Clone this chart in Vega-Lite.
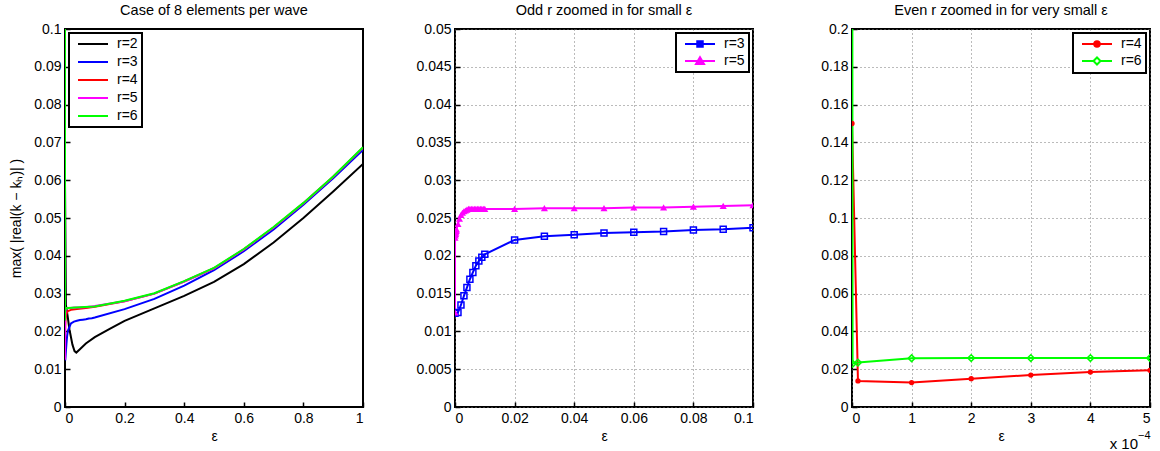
{
  "$schema": "https://vega.github.io/schema/vega-lite/v6.json",
  "background": "white",
  "padding": {"left": 8, "top": 1, "right": 2, "bottom": 0},
  "config": {
    "font": "Liberation Sans",
    "view": {"stroke": "black", "strokeWidth": 2},
    "axis": {"labelFont": "Liberation Sans", "labelFontSize": 14, "labelColor": "black", "titleFont": "Liberation Sans", "titleFontSize": 14, "titleFontWeight": "normal", "titleColor": "black", "domain": false, "tickColor": "black", "tickSize": -5, "tickWidth": 1.5, "labelPadding": 9, "grid": false, "gridDash": [1, 3], "gridColor": "#777777", "gridWidth": 1},
    "title": {"font": "Liberation Sans", "fontSize": 14.5, "fontWeight": "normal", "color": "black", "offset": 4},
    "legend": {"labelFont": "Liberation Sans", "labelFontSize": 14, "labelColor": "black", "strokeColor": "black", "fillColor": "white", "padding": 4, "rowPadding": 4, "symbolSize": 100, "symbolStrokeWidth": 2, "symbolOffset": 3, "labelOffset": 27, "symbolType": "M-1,0H5", "offset": 4}
  },
  "datasets": {
    "d": [
      {"r": "r=2", "eps": 0, "v": 0.06},
      {"r": "r=2", "eps": 0.003, "v": 0.027},
      {"r": "r=2", "eps": 0.008, "v": 0.0245},
      {"r": "r=2", "eps": 0.015, "v": 0.0205},
      {"r": "r=2", "eps": 0.025, "v": 0.0165},
      {"r": "r=2", "eps": 0.032, "v": 0.0148},
      {"r": "r=2", "eps": 0.038, "v": 0.0144},
      {"r": "r=2", "eps": 0.05, "v": 0.0153},
      {"r": "r=2", "eps": 0.07, "v": 0.0168},
      {"r": "r=2", "eps": 0.1, "v": 0.0185},
      {"r": "r=2", "eps": 0.15, "v": 0.0207},
      {"r": "r=2", "eps": 0.2, "v": 0.0228},
      {"r": "r=2", "eps": 0.3, "v": 0.0261},
      {"r": "r=2", "eps": 0.4, "v": 0.0294},
      {"r": "r=2", "eps": 0.5, "v": 0.0331},
      {"r": "r=2", "eps": 0.6, "v": 0.0378},
      {"r": "r=2", "eps": 0.7, "v": 0.0435},
      {"r": "r=2", "eps": 0.8, "v": 0.05},
      {"r": "r=2", "eps": 0.9, "v": 0.057},
      {"r": "r=2", "eps": 1, "v": 0.0643},

      {"r": "r=3", "eps": 0, "v": 0.0124},
      {"r": "r=3", "eps": 0.001, "v": 0.0125},
      {"r": "r=3", "eps": 0.002, "v": 0.0135},
      {"r": "r=3", "eps": 0.003, "v": 0.0147},
      {"r": "r=3", "eps": 0.004, "v": 0.0158},
      {"r": "r=3", "eps": 0.005, "v": 0.0169},
      {"r": "r=3", "eps": 0.006, "v": 0.0178},
      {"r": "r=3", "eps": 0.007, "v": 0.0187},
      {"r": "r=3", "eps": 0.008, "v": 0.0193},
      {"r": "r=3", "eps": 0.009, "v": 0.0198},
      {"r": "r=3", "eps": 0.01, "v": 0.0202},
      {"r": "r=3", "eps": 0.02, "v": 0.0221},
      {"r": "r=3", "eps": 0.03, "v": 0.0226},
      {"r": "r=3", "eps": 0.04, "v": 0.0228},
      {"r": "r=3", "eps": 0.05, "v": 0.023},
      {"r": "r=3", "eps": 0.06, "v": 0.0231},
      {"r": "r=3", "eps": 0.07, "v": 0.0232},
      {"r": "r=3", "eps": 0.08, "v": 0.0234},
      {"r": "r=3", "eps": 0.09, "v": 0.0235},
      {"r": "r=3", "eps": 0.1, "v": 0.0237},
      {"r": "r=3", "eps": 0.2, "v": 0.0259},
      {"r": "r=3", "eps": 0.3, "v": 0.0286},
      {"r": "r=3", "eps": 0.4, "v": 0.0321},
      {"r": "r=3", "eps": 0.5, "v": 0.0362},
      {"r": "r=3", "eps": 0.6, "v": 0.0412},
      {"r": "r=3", "eps": 0.7, "v": 0.047},
      {"r": "r=3", "eps": 0.8, "v": 0.0535},
      {"r": "r=3", "eps": 0.9, "v": 0.0605},
      {"r": "r=3", "eps": 1, "v": 0.068},

      {"r": "r=4", "eps": 0, "v": 0.15},
      {"r": "r=4", "eps": 0.00001, "v": 0.0138},
      {"r": "r=4", "eps": 0.0001, "v": 0.0129},
      {"r": "r=4", "eps": 0.0002, "v": 0.015},
      {"r": "r=4", "eps": 0.0003, "v": 0.0169},
      {"r": "r=4", "eps": 0.0004, "v": 0.0185},
      {"r": "r=4", "eps": 0.0005, "v": 0.0194},
      {"r": "r=4", "eps": 0.001, "v": 0.0215},
      {"r": "r=4", "eps": 0.002, "v": 0.0232},
      {"r": "r=4", "eps": 0.004, "v": 0.0245},
      {"r": "r=4", "eps": 0.007, "v": 0.0251},
      {"r": "r=4", "eps": 0.01, "v": 0.0254},
      {"r": "r=4", "eps": 0.02, "v": 0.0257},
      {"r": "r=4", "eps": 0.04, "v": 0.0259},
      {"r": "r=4", "eps": 0.07, "v": 0.0262},
      {"r": "r=4", "eps": 0.1, "v": 0.0265},
      {"r": "r=4", "eps": 0.2, "v": 0.028},
      {"r": "r=4", "eps": 0.3, "v": 0.03},
      {"r": "r=4", "eps": 0.4, "v": 0.0332},
      {"r": "r=4", "eps": 0.5, "v": 0.0367},
      {"r": "r=4", "eps": 0.6, "v": 0.0417},
      {"r": "r=4", "eps": 0.7, "v": 0.0475},
      {"r": "r=4", "eps": 0.8, "v": 0.0539},
      {"r": "r=4", "eps": 0.9, "v": 0.0609},
      {"r": "r=4", "eps": 1, "v": 0.0686},

      {"r": "r=5", "eps": 0, "v": 0.0125},
      {"r": "r=5", "eps": 0.00001, "v": 0.0224},
      {"r": "r=5", "eps": 0.0001, "v": 0.0227},
      {"r": "r=5", "eps": 0.0002, "v": 0.0229},
      {"r": "r=5", "eps": 0.0003, "v": 0.0231},
      {"r": "r=5", "eps": 0.0004, "v": 0.0233},
      {"r": "r=5", "eps": 0.0005, "v": 0.0235},
      {"r": "r=5", "eps": 0.001, "v": 0.0242},
      {"r": "r=5", "eps": 0.0015, "v": 0.0249},
      {"r": "r=5", "eps": 0.002, "v": 0.0254},
      {"r": "r=5", "eps": 0.0025, "v": 0.0257},
      {"r": "r=5", "eps": 0.003, "v": 0.0259},
      {"r": "r=5", "eps": 0.0035, "v": 0.026},
      {"r": "r=5", "eps": 0.004, "v": 0.0261},
      {"r": "r=5", "eps": 0.0045, "v": 0.0262},
      {"r": "r=5", "eps": 0.005, "v": 0.0262},
      {"r": "r=5", "eps": 0.0055, "v": 0.0262},
      {"r": "r=5", "eps": 0.006, "v": 0.0262},
      {"r": "r=5", "eps": 0.0065, "v": 0.0262},
      {"r": "r=5", "eps": 0.007, "v": 0.0262},
      {"r": "r=5", "eps": 0.0075, "v": 0.0262},
      {"r": "r=5", "eps": 0.008, "v": 0.0262},
      {"r": "r=5", "eps": 0.0085, "v": 0.0262},
      {"r": "r=5", "eps": 0.009, "v": 0.0262},
      {"r": "r=5", "eps": 0.0095, "v": 0.0262},
      {"r": "r=5", "eps": 0.01, "v": 0.0262},
      {"r": "r=5", "eps": 0.02, "v": 0.0262},
      {"r": "r=5", "eps": 0.03, "v": 0.0263},
      {"r": "r=5", "eps": 0.04, "v": 0.0263},
      {"r": "r=5", "eps": 0.05, "v": 0.0263},
      {"r": "r=5", "eps": 0.06, "v": 0.0264},
      {"r": "r=5", "eps": 0.07, "v": 0.0264},
      {"r": "r=5", "eps": 0.08, "v": 0.0265},
      {"r": "r=5", "eps": 0.09, "v": 0.0266},
      {"r": "r=5", "eps": 0.1, "v": 0.0267},
      {"r": "r=5", "eps": 0.2, "v": 0.028},
      {"r": "r=5", "eps": 0.3, "v": 0.03},
      {"r": "r=5", "eps": 0.4, "v": 0.0332},
      {"r": "r=5", "eps": 0.5, "v": 0.0367},
      {"r": "r=5", "eps": 0.6, "v": 0.0417},
      {"r": "r=5", "eps": 0.7, "v": 0.0475},
      {"r": "r=5", "eps": 0.8, "v": 0.0539},
      {"r": "r=5", "eps": 0.9, "v": 0.0609},
      {"r": "r=5", "eps": 1, "v": 0.0686},

      {"r": "r=6", "eps": 0, "v": 0.5},
      {"r": "r=6", "eps": 0.000001, "v": 0.0229},
      {"r": "r=6", "eps": 0.00001, "v": 0.0235},
      {"r": "r=6", "eps": 0.0001, "v": 0.0258},
      {"r": "r=6", "eps": 0.0002, "v": 0.0259},
      {"r": "r=6", "eps": 0.0003, "v": 0.0259},
      {"r": "r=6", "eps": 0.0004, "v": 0.0259},
      {"r": "r=6", "eps": 0.0005, "v": 0.0259},
      {"r": "r=6", "eps": 0.001, "v": 0.026},
      {"r": "r=6", "eps": 0.01, "v": 0.0262},
      {"r": "r=6", "eps": 0.05, "v": 0.0264},
      {"r": "r=6", "eps": 0.1, "v": 0.0266},
      {"r": "r=6", "eps": 0.2, "v": 0.0281},
      {"r": "r=6", "eps": 0.3, "v": 0.0301},
      {"r": "r=6", "eps": 0.4, "v": 0.0333},
      {"r": "r=6", "eps": 0.5, "v": 0.0368},
      {"r": "r=6", "eps": 0.6, "v": 0.0418},
      {"r": "r=6", "eps": 0.7, "v": 0.0476},
      {"r": "r=6", "eps": 0.8, "v": 0.054},
      {"r": "r=6", "eps": 0.9, "v": 0.061},
      {"r": "r=6", "eps": 1, "v": 0.0687}
    ]
  },
  "spacing": 49,
  "resolve": {"scale": {"color": "independent"}, "legend": {"color": "independent"}},
  "hconcat": [
    {
      "width": 298,
      "height": 378,
      "title": "Case of 8 elements per wave",
      "data": {"name": "d"},
      "mark": {"type": "line", "strokeWidth": 2, "clip": true},
      "encoding": {
        "x": {"field": "eps", "type": "quantitative", "scale": {"domain": [0, 1], "nice": false}, "axis": {"title": "ε", "values": [0, 0.2, 0.4, 0.6, 0.8, 1], "format": ".1~f"}},
        "y": {"field": "v", "type": "quantitative", "scale": {"domain": [0, 0.1], "nice": false}, "axis": {"title": "max( |real(k − kₕ)| )", "values": [0, 0.01, 0.02, 0.03, 0.04, 0.05, 0.06, 0.07, 0.08, 0.09, 0.1], "format": ".2~f", "titlePadding": 10}},
        "color": {"field": "r", "type": "nominal", "scale": {"domain": ["r=2", "r=3", "r=4", "r=5", "r=6"], "range": ["#000000", "#0000ff", "#ff0000", "#ff00ff", "#00ff00"]},
          "legend": {"title": null, "orient": "top-left", "rowPadding": 4, "encode": {"legend": {"update": {"strokeWidth": {"value": 2}}}}}}
      }
    },
    {
      "spacing": 64,
      "resolve": {"scale": {"color": "independent"}, "legend": {"color": "independent"}},
      "hconcat": [
        {
          "width": 298,
          "height": 378,
          "title": "Odd r zoomed in for small ε",
          "data": {"name": "d"},
          "encoding": {
            "x": {"field": "eps", "type": "quantitative", "scale": {"domain": [0, 0.1], "nice": false}, "axis": {"title": "ε", "values": [0, 0.02, 0.04, 0.06, 0.08, 0.1], "format": ".2~f", "grid": true}},
            "y": {"field": "v", "type": "quantitative", "scale": {"domain": [0, 0.05], "nice": false}, "axis": {"title": null, "values": [0, 0.005, 0.01, 0.015, 0.02, 0.025, 0.03, 0.035, 0.04, 0.045, 0.05], "format": ".3~f", "grid": true}}
          },
          "layer": [
            {
              "transform": [{"filter": {"field": "r", "oneOf": ["r=3", "r=5"]}}, {"filter": "datum.eps <= 0.1"}],
              "mark": {"type": "line", "strokeWidth": 2, "clip": true},
              "encoding": {
                "color": {"field": "r", "type": "nominal", "scale": {"domain": ["r=3", "r=5"], "range": ["#0000ff", "#ff00ff"]},
                  "legend": {"title": null, "orient": "top-right", "rowPadding": 2, "encode": {
                    "legend": {"update": {"strokeWidth": {"value": 2}}},
                    "symbols": {"update": {
                      "shape": {"signal": "datum.value === 'r=3' ? 'M-1,0H5M1.45,-0.55H2.55V0.55H1.45Z' : 'M-1,0H5M2,-0.75L2.8,0.6H1.2Z'"},
                      "fill": {"signal": "datum.value === 'r=3' ? '#0000ff' : '#ff00ff'"}
                    }}
                  }}}
              }
            },
            {
              "transform": [{"filter": "datum.r === 'r=3' && datum.eps <= 0.1"}],
              "mark": {"type": "point", "shape": "square", "size": 36, "filled": false, "color": "#0000ff", "strokeWidth": 1.5, "opacity": 1, "clip": true}
            },
            {
              "transform": [{"filter": "datum.r === 'r=5' && datum.eps <= 0.1"}],
              "mark": {"type": "point", "shape": "triangle-up", "size": 50, "filled": true, "color": "#ff00ff", "opacity": 1, "clip": true}
            }
          ]
        },
        {
          "width": 298,
          "height": 378,
          "title": "Even r zoomed in for very small ε",
          "data": {"name": "d"},
          "encoding": {
            "x": {"field": "eps", "type": "quantitative", "scale": {"domain": [0, 0.0005], "nice": false}, "axis": {"title": "ε", "values": [0, 0.0001, 0.0002, 0.0003, 0.0004, 0.0005], "labelExpr": "'' + round(datum.value * 10000)", "grid": true}},
            "y": {"field": "v", "type": "quantitative", "scale": {"domain": [0, 0.2], "nice": false}, "axis": {"title": null, "values": [0, 0.02, 0.04, 0.06, 0.08, 0.1, 0.12, 0.14, 0.16, 0.18, 0.2], "format": ".2~f", "grid": true}}
          },
          "layer": [
            {
              "transform": [{"filter": {"field": "r", "oneOf": ["r=4", "r=6"]}}, {"filter": "datum.eps <= 0.0005"}],
              "mark": {"type": "line", "strokeWidth": 2, "clip": true},
              "encoding": {
                "color": {"field": "r", "type": "nominal", "scale": {"domain": ["r=4", "r=6"], "range": ["#ff0000", "#00ff00"]},
                  "legend": {"title": null, "orient": "top-right", "rowPadding": 2, "encode": {
                    "legend": {"update": {"strokeWidth": {"value": 2}}},
                    "symbols": {"update": {
                      "shape": {"signal": "datum.value === 'r=4' ? 'M-1,0H5M1.45,0A0.55,0.55 0 1,0 2.55,0A0.55,0.55 0 1,0 1.45,0Z' : 'M-1,0H1.3M2.7,0H5M1.3,0L2,-0.7L2.7,0L2,0.7Z'"},
                      "fill": {"signal": "datum.value === 'r=4' ? '#ff0000' : 'transparent'"}
                    }}
                  }}}
              }
            },
            {
              "transform": [{"filter": "datum.r === 'r=4' && datum.eps <= 0.0005"}],
              "mark": {"type": "point", "shape": "circle", "size": 28, "filled": true, "color": "#ff0000", "opacity": 1, "clip": true}
            },
            {
              "transform": [{"filter": "datum.r === 'r=6' && datum.eps <= 0.0005"}],
              "mark": {"type": "point", "shape": "diamond", "size": 45, "filled": false, "color": "#00ff00", "strokeWidth": 1.5, "opacity": 1, "clip": true}
            },
            {
              "data": {"values": [{"base": "x 10"}]},
              "mark": {"type": "text", "align": "right", "baseline": "middle", "dx": -12, "fontSize": 15, "font": "Liberation Sans", "fill": "black"},
              "encoding": {
                "x": {"value": "width"},
                "y": {"value": "height"},
                "yOffset": {"value": 37},
                "text": {"field": "base"}
              }
            },
            {
              "data": {"values": [{"exp": "−4"}]},
              "mark": {"type": "text", "align": "left", "baseline": "middle", "dx": -12, "fontSize": 11, "font": "Liberation Sans", "fill": "black"},
              "encoding": {
                "x": {"value": "width"},
                "y": {"value": "height"},
                "yOffset": {"value": 29},
                "text": {"field": "exp"}
              }
            }
          ]
        }
      ]
    }
  ]
}
